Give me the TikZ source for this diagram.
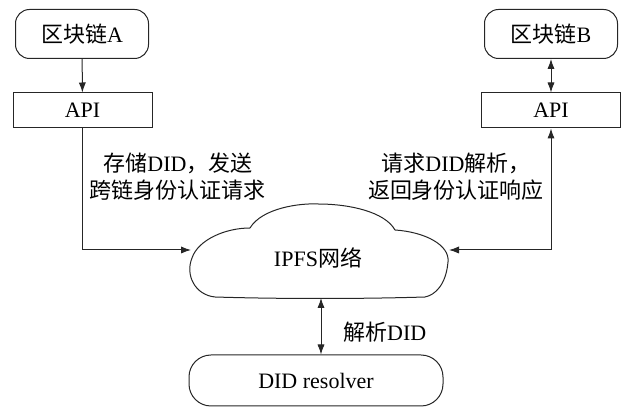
\documentclass[tikz,border=0pt]{standalone}
\usepackage{fontspec}
\setmainfont{Liberation Serif}
\newfontfamily\cjk{Noto Sans CJK SC}
\newcommand{\zh}[1]{{\cjk #1}}
\usepackage{tikz}
\usetikzlibrary{arrows.meta}
\tikzset{>={Latex[length=5pt,width=3.6pt]}}
\tikzset{
  chainbox/.style={draw, rounded corners=7pt, minimum width=66.5pt, minimum height=24.5pt},
  apibox/.style={draw, minimum width=69.5pt, minimum height=17.5pt},
  resolverbox/.style={draw, rounded corners=11pt, minimum width=127pt, minimum height=25.5pt}
}

\begin{document}
\begin{tikzpicture}[x=0.5pt, y=-0.5pt, font=\fontsize{11pt}{13.5pt}\selectfont, draw=black!85, line width=0.5pt]
                \useasboundingbox (0, 0) rectangle (623, 411);
                \node[chainbox] (chainA) at (82, 34) {\zh{区块链}A};
                \node[apibox] (apiA) at (82.5, 110.5) {API};
                \node[chainbox] (chainB) at (551, 34) {\zh{区块链}B};
                \node[apibox] (apiB) at (551, 110.5) {API};
                % cloud
                \draw (215, 297) .. controls (195, 295) and (185, 275) .. (192, 258)
                    .. controls (198, 240) and (225, 228) .. (250, 228)
                    .. controls (262, 208) and (300, 203) .. (318, 204)
                    .. controls (350, 204) and (385, 212) .. (395, 230)
                    .. controls (425, 232) and (450, 245) .. (448, 262)
                    .. controls (446, 285) and (435, 295) .. (425, 297)
                    .. controls (360, 299) and (280, 299) .. (215, 297) -- cycle;
                \node (ipfs) at (318, 258) {IPFS\zh{网络}};
                \coordinate (ipfsW) at (191, 250);
                \coordinate (ipfsE) at (449, 250);
                \coordinate (ipfsS) at (321, 298);
                \node[resolverbox] (resolver) at (316, 380.5) {DID resolver};
                \draw[->] (chainA) -- (apiA);
                \draw[<->] (chainB) -- (apiB);
                \draw[->] (apiA) |- (ipfsW);
                \draw[<->] (apiB) |- (ipfsE);
                \draw[<->] (ipfsS) -- (ipfsS |- resolver.north);
                \node[align=center] (storeLabel) at (178, 177) {\zh{存储}DID\zh{，发送}\\ \zh{跨链身份认证请求}};
                \node[align=center] (queryLabel) at (456, 177) {\zh{请求}DID\zh{解析，}\\ \zh{返回身份认证响应}};
                \node[anchor=west] (resolveLabel) at (336, 332) {\zh{解析}DID};
            \end{tikzpicture}
\end{document}
